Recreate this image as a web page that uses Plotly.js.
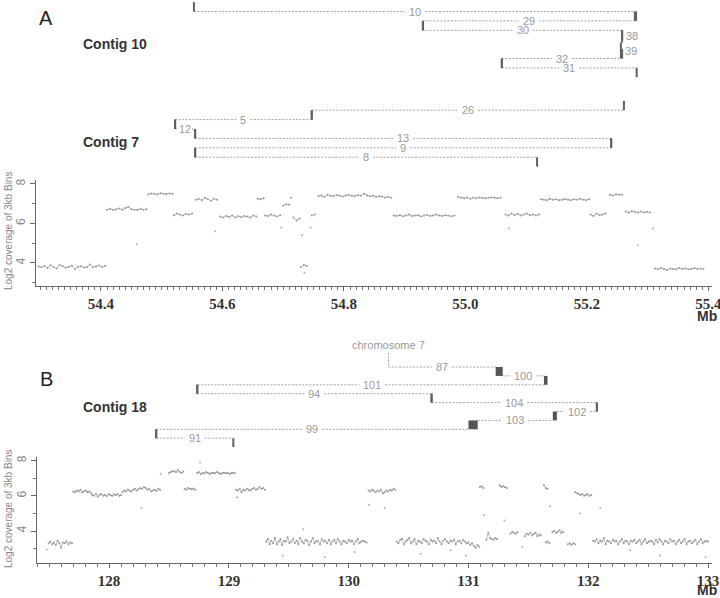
<!DOCTYPE html>
<html>
<head>
<meta charset="utf-8">
<script src="https://cdn.plot.ly/plotly-3.0.1.min.js"></script>
<style>
  html, body { margin: 0; padding: 0; background: #fff; }
  #chart { width: 720px; height: 598px; }
</style>
</head>
<body>
<div id="chart"></div>
<script>
// ---- Panel A: log2 coverage, 54.3-55.4 Mb (one array per segment) ----
const binStepA = 0.005;
const segStartA = [54.297, 54.41, 54.478, 54.52, 54.556, 54.596, 54.658, 54.67, 54.70, 54.713, 54.717,
  54.729, 54.747, 54.758, 54.882, 54.988, 55.066, 55.124, 55.206, 55.238, 55.264, 55.312];
const segValuesA = [
  [3.82,3.78,3.85,3.75,3.88,3.8,3.72,3.9,3.83,3.76,3.8,3.86,3.7,3.81,3.84,3.77,3.8,3.92,3.79,3.83,3.87,3.8,3.85],
  [6.7,6.74,6.68,6.72,6.76,6.7,6.78,6.85,6.72,6.7,6.68,6.74,6.7,6.72],
  [7.48,7.52,7.5,7.47,7.53,7.5,7.49,7.52,7.5],
  [6.42,6.5,6.45,6.4,6.48,6.45,6.5],
  [7.2,7.25,7.18,7.3,7.22,7.15,7.25,7.2],
  [6.35,6.3,6.38,6.33,6.4,6.3,6.36,6.32,6.38,6.35,6.3,6.4,6.35],
  [7.25,7.22,7.28],
  [6.4,6.38,6.45,6.4,6.35,6.42],
  [6.9,6.97,6.95],
  [7.3],
  [6.3,6.15,6.25],
  [3.8,3.9,3.85],
  [6.4,6.45],
  [7.38,7.42,7.35,7.45,7.4,7.38,7.44,7.4,7.36,7.42,7.45,7.4,7.38,7.43,7.4,7.5,7.42,7.38,7.4,7.35,7.38,7.36,7.32,7.35,7.3],
  [6.4,6.38,6.42,6.36,6.4,6.45,6.38,6.4,6.42,6.35,6.4,6.44,6.38,6.4,6.45,6.4,6.38,6.42,6.4,6.36,6.4],
  [7.35,7.3,7.28,7.32,7.25,7.3,7.28,7.32,7.3,7.27,7.3,7.32,7.3,7.28,7.3],
  [6.45,6.4,6.5,6.42,6.48,6.4,6.45,6.5,6.42,6.45,6.4,6.45],
  [7.22,7.2,7.18,7.25,7.2,7.22,7.18,7.2,7.24,7.2,7.18,7.22,7.2,7.25,7.2,7.18,7.22],
  [6.45,6.38,6.5,6.42,6.45,6.5],
  [7.45,7.42,7.48,7.45,7.45],
  [6.6,6.55,6.62,6.58,6.55,6.6,6.55,6.58,6.56],
  [3.72,3.68,3.75,3.7,3.65,3.72,3.7,3.68,3.75,3.7,3.72,3.68,3.7,3.74,3.7,3.72,3.7]
];
const strayXA = [54.459, 54.588, 54.697, 54.731, 54.735, 54.745, 55.072, 55.284, 55.309];
const strayYA = [4.95, 5.6, 5.8, 5.4, 3.5, 5.8, 5.75, 4.9, 5.75];

// ---- Panel B: log2 coverage, 127.4-133 Mb ----
const binStepB = 0.015;
const segStartB = [127.495, 127.70, 127.86, 128.11, 128.50, 128.63, 128.735, 129.06, 129.31, 130.165, 130.40,
  131.095, 131.15, 131.26, 131.35, 131.47, 131.63, 131.645, 131.70, 131.83, 131.89, 132.04];
const segValuesB = [
  [3.3,3.4,3.25,3.35,3.2,3.45,3.3,3.05,3.35,3.3,3.4,3.25,3.35,3.3],
  [6.25,6.2,6.3,6.25,6.35,6.2,6.25,6.3,6.2,6.25,6.15],
  [6.05,6.0,6.1,5.95,6.05,6.1,6.0,6.05,5.98,6.1,6.05,6.0,6.08,6.05,6.1,6.0,6.05],
  [6.2,6.3,6.25,6.35,6.3,6.25,6.35,6.4,6.3,6.38,6.45,6.4,6.5,6.45,6.35,6.4,6.25,6.3,6.35,6.28,6.4,6.35],
  [7.3,7.35,7.4,7.38,7.35,7.45,7.35,7.3,7.38],
  [6.4,6.35,6.45,6.4,6.38,6.42,6.35],
  [7.3,7.35,7.25,7.3,7.28,7.35,7.3,7.25,7.32,7.3,7.28,7.35,7.3,7.25,7.3,7.32,7.28,7.3,7.25,7.3,7.32,7.28],
  [6.35,6.3,6.4,6.2,6.35,6.3,6.4,6.35,6.3,6.4,6.45,6.35,6.4,6.5,6.4,6.45,6.35],
  [3.4,3.55,3.25,3.45,3.3,3.6,3.25,3.4,3.55,3.2,3.45,3.4,3.65,3.3,3.4,3.55,3.3,3.45,3.25,3.6,3.4,3.3,3.5,3.45,3.2,
   3.4,3.6,3.3,3.45,3.4,3.25,3.55,3.4,3.45,3.3,3.5,3.25,3.4,3.5,3.3,3.55,3.4,3.25,3.45,3.4,3.3,3.5,3.4,3.45,3.25,
   3.4,3.55,3.3,3.4,3.45,3.4,3.35],
  [6.3,6.25,6.35,6.3,6.2,6.3,6.25,6.35,6.15,6.2,6.3,6.25,6.35,6.3,6.4,6.35],
  [3.4,3.3,3.5,3.55,3.25,3.4,3.5,3.6,3.3,3.4,3.55,3.25,3.45,3.4,3.3,3.55,3.45,3.4,3.25,3.5,3.4,3.45,3.3,3.6,3.4,
   3.25,3.45,3.55,3.4,3.3,3.45,3.4,3.5,3.25,3.4,3.45,3.3,3.5,3.4,3.3,3.35,3.2,3.3,3.15,3.05,3.2,3.1],
  [6.5,6.55,6.45],
  [3.5,3.9,3.6,3.55,3.5,3.6,3.55],
  [6.6,6.5,6.55,6.5,6.45],
  [3.85,3.95,3.9,3.85,3.95],
  [3.7,3.85,3.8,3.9,3.75,3.85,3.9,3.7,3.8,3.75],
  [6.6,6.45,6.4],
  [3.35,3.4,3.3],
  [3.95,4.0,3.9,3.95,4.05,3.9,3.95],
  [3.25,3.3,3.2,3.3,3.25],
  [6.2,6.15,6.1,6.05,6.1,6.0,6.05,6.1,6.0,6.05],
  [3.45,3.4,3.55,3.3,3.45,3.4,3.6,3.25,3.45,3.4,3.3,3.5,3.4,3.45,3.25,3.4,3.55,3.3,3.45,3.4,3.25,3.45,3.4,3.5,3.3,
   3.4,3.5,3.25,3.4,3.55,3.3,3.4,3.45,3.4,3.25,3.5,3.35,3.55,3.4,3.25,3.45,3.4,3.3,3.55,3.4,3.45,3.25,3.4,3.5,3.3,
   3.4,3.55,3.25,3.4,3.45,3.3,3.4,3.5,3.25,3.4,3.55,3.3,3.4,3.45,3.4]
];
const strayXB = [127.48, 128.27, 128.43, 128.76, 129.07, 129.45, 129.62, 129.8, 130.05, 130.17, 130.3, 130.6,
  130.85, 130.98, 131.13, 131.3, 131.45, 131.68, 131.93, 132.1, 132.35, 132.6, 132.98];
const strayYB = [2.95, 5.3, 7.25, 7.9, 5.9, 2.6, 4.1, 2.5, 2.8, 5.5, 5.3, 2.7, 2.9, 2.6, 4.9, 4.6, 3.1, 5.4, 5.0,
  5.3, 2.9, 2.6, 2.5];

// ---- Junction links above each panel (Mb ends, diagram row, end bar side: -1 up, 1 down, 0 none) ----
const linkLabelA = ["10", "29", "30", "32", "31", "26", "5", "12", "13", "9", "8"];
const linkFromA = [54.553, 54.930, 54.930, 55.060, 55.060, 54.747, 54.522, 54.522, 54.555, 54.555, 54.555];
const linkToA = [55.281, 55.279, 55.258, 55.258, 55.282, 55.261, 54.747, 54.555, 55.240, 55.240, 55.118];
const linkRowA = [0, 1, 2, 5, 6, 10.5, 11.5, 12.5, 13.5, 14.5, 15.5];
const fromSideA = [-1, 1, -1, 1, -1, 1, 1, -1, -1, 1, -1];
const toSideA = [1, -1, 1, -1, 1, -1, -1, 1, 1, -1, 1];
const spanLabelA = ["38", "39"];
const spanXA = [55.258, 55.256];
const spanTopA = [2, 3.3];
const spanBottomA = [3.3, 5];

const linkLabelB = ["87", "100", "101", "94", "104", "102", "103", "99", "91"];
const linkFromB = [130.333, 131.286, 128.736, 128.736, 130.692, 131.738, 131.077, 128.393, 128.393];
const linkToB = [131.227, 131.630, 131.654, 130.692, 132.072, 132.072, 131.704, 131.0, 129.037];
const linkRowB = [0, 1, 2, 3, 4, 5, 6, 7, 8];
const fromSideB = [0, 0, 1, -1, -1, 0, 0, 1, -1];
const toSideB = [0, 0, 0, 1, 1, -1, 0, 0, 1];
const boxFromB = [131.227, 131.630, 131.704, 131.0];
const boxToB = [131.286, 131.660, 131.738, 131.077];
const boxTopB = [0, 1, 5, 6];
const boxBottomB = [1, 2, 6, 7];
const sourceLabelB = "chromosome 7";
const sourceXB = 130.333;

// ---- page geometry (pixels) ----
const W = 720, H = 598;
const fx = p => p / W;
const fy = p => 1 - p / H;

const rangeXA = [54.293, 55.406], pxXA = [36, 712];
const rangeXB = [127.398, 133.033], pxXB = [37, 712];
const mbPerPxA = (rangeXA[1] - rangeXA[0]) / (pxXA[1] - pxXA[0]);
const mbPerPxB = (rangeXB[1] - rangeXB[0]) / (pxXB[1] - pxXB[0]);

const labelFont = { family: "Liberation Sans Narrow, Liberation Sans", size: 11, color: "#999" };

function coverageTrace(starts, segs, step, xa, ya) {
  const xs = [], ys = [];
  segs.forEach((vals, k) => {
    vals.forEach((v, i) => { xs.push(starts[k] + i * step); ys.push(v); });
    xs.push(null); ys.push(null);
  });
  return {
    x: xs, y: ys, xaxis: xa, yaxis: ya, type: "scatter", mode: "lines+markers",
    line: { color: "#a8a8a8", width: 0.8 },
    marker: { size: 2, color: "#999" },
    connectgaps: false, hoverinfo: "skip"
  };
}

function strayTrace(xs, ys, xa, ya) {
  return {
    x: xs, y: ys, xaxis: xa, yaxis: ya, type: "scatter", mode: "markers",
    marker: { size: 2, color: "#b0b0b0" }, hoverinfo: "skip"
  };
}

// dotted line broken around its label, plus the solid end bars
function linkTraces(labels, from, to, row, fromSide, toSide, mbPerPx, xa, ya) {
  const lx = [], ly = [], bx = [], by = [];
  for (let i = 0; i < from.length; i++) {
    const mid = (from[i] + to[i]) / 2;
    const gap = (labels[i].length * 3 + 4) * mbPerPx;
    const foot = 3 * mbPerPx;
    lx.push(from[i], Math.max(from[i] + foot, mid - gap), null, Math.min(to[i] - foot, mid + gap), to[i], null);
    ly.push(row[i], row[i], null, row[i], row[i], null);
    if (fromSide[i]) { bx.push(from[i], from[i], null); by.push(row[i], row[i] + fromSide[i], null); }
    if (toSide[i]) { bx.push(to[i], to[i], null); by.push(row[i], row[i] + toSide[i], null); }
  }
  return [
    { x: lx, y: ly, xaxis: xa, yaxis: ya, type: "scatter", mode: "lines",
      line: { color: "#a0a0a0", width: 1, dash: "2px,1.5px" }, hoverinfo: "skip" },
    { x: bx, y: by, xaxis: xa, yaxis: ya, type: "scatter", mode: "lines",
      line: { color: "#606060", width: 2 }, hoverinfo: "skip" }
  ];
}

function linkLabels(labels, from, to, row, xref, yref) {
  return labels.map((t, i) => ({
    x: (from[i] + to[i]) / 2, y: row[i], xref: xref, yref: yref, text: t, showarrow: false,
    font: labelFont, xanchor: "center", yanchor: "middle"
  }));
}

const traces = [
  coverageTrace(segStartA, segValuesA, binStepA, "x", "y"),
  strayTrace(strayXA, strayYA, "x", "y"),
  coverageTrace(segStartB, segValuesB, binStepB, "x2", "y2"),
  strayTrace(strayXB, strayYB, "x2", "y2"),
  ...linkTraces(linkLabelA, linkFromA, linkToA, linkRowA, fromSideA, toSideA, mbPerPxA, "x", "y3"),
  ...linkTraces(linkLabelB, linkFromB, linkToB, linkRowB, fromSideB, toSideB, mbPerPxB, "x2", "y4")
];

// 38 / 39: tiny events drawn as vertical brackets
const spanX = [], spanY = [];
spanXA.forEach((x, i) => { spanX.push(x, x, null); spanY.push(spanTopA[i], spanBottomA[i], null); });
traces.push({ x: spanX, y: spanY, xaxis: "x", yaxis: "y3", type: "scatter", mode: "lines",
  line: { color: "#606060", width: 2 }, hoverinfo: "skip" });

// chromosome 7 stem
traces.push({ x: [sourceXB, sourceXB], y: [-1.6, 0], xaxis: "x2", yaxis: "y4", type: "scatter",
  mode: "lines", line: { color: "#a0a0a0", width: 1, dash: "2px,1.5px" }, hoverinfo: "skip" });

const shapes = boxFromB.map((x0, i) => ({
  type: "rect", xref: "x2", yref: "y4", x0: x0, x1: boxToB[i], y0: boxTopB[i], y1: boxBottomB[i],
  fillcolor: "#555", line: { width: 0 }
}));

const tickFont = { family: "Liberation Serif", size: 15, color: "#333", weight: "bold" };
const yTickFont = { family: "Liberation Sans", size: 12, color: "#888" };

function xAxis(domainPx, range, tick0, dtick, minor, fmt, anchor) {
  return {
    domain: [fx(domainPx[0]), fx(domainPx[1])], range: range, anchor: anchor,
    showgrid: false, zeroline: false,
    showline: true, linecolor: "#666", linewidth: 1, ticks: "outside", ticklen: 4, tickcolor: "#666",
    tick0: tick0, dtick: dtick, tickformat: fmt, tickfont: tickFont, automargin: false,
    ticklabeloverflow: "allow",
    minor: { dtick: minor, ticks: "outside", ticklen: 3, tickcolor: "#777", showgrid: false }
  };
}
function yAxis(domain, range, anchor) {
  return {
    domain: domain, range: range, anchor: anchor, showgrid: false, zeroline: false,
    showline: true, linecolor: "#666", linewidth: 1, ticks: "outside", ticklen: 5, tickcolor: "#666",
    tick0: 0, dtick: 2, tickangle: -90, tickfont: yTickFont, automargin: false,
    minor: { dtick: 1, ticks: "outside", ticklen: 3, tickcolor: "#777", showgrid: false }
  };
}

const rowPxA = 9.4, row0A = 11.5;
const rowPxB = 8.9, row0B = 367;

const textAnn = (x, y, text, font, xanchor) => ({
  xref: "paper", yref: "paper", x: fx(x), y: fy(y), text: text, showarrow: false,
  xanchor: xanchor || "center", yanchor: "middle", font: font
});
const contigFont = { family: "Liberation Sans", size: 14, color: "#333", weight: "bold" };
const panelFont = { family: "Liberation Sans", size: 20, color: "#222" };
const mbFont = { family: "Liberation Sans", size: 14, color: "#333", weight: "bold" };
const ytFont = { family: "Liberation Sans", size: 10, color: "#888" };

const annotations = [
  textAnn(46, 18, "A", panelFont),
  textAnn(46, 379, "B", panelFont),
  textAnn(81, 44, "Contig 10", contigFont, "left"),
  textAnn(81, 142, "Contig 7", contigFont, "left"),
  textAnn(81, 407, "Contig 18", contigFont, "left"),
  textAnn(707, 316, "Mb", mbFont),
  textAnn(707, 590, "Mb", mbFont),
  Object.assign(textAnn(8, 231, "Log2 coverage of 3kb Bins", ytFont), { textangle: -90 }),
  Object.assign(textAnn(8, 509, "Log2 coverage of 3kb Bins", ytFont), { textangle: -90 }),
  ...linkLabels(linkLabelA, linkFromA, linkToA, linkRowA, "x", "y3"),
  ...linkLabels(linkLabelB, linkFromB, linkToB, linkRowB, "x2", "y4"),
  ...spanLabelA.map((t, i) => ({
    x: spanXA[i], y: (spanTopA[i] + spanBottomA[i]) / 2, xref: "x", yref: "y3", text: t, showarrow: false,
    xanchor: "left", yanchor: "middle", xshift: 2, font: labelFont
  })),
  { x: sourceXB, y: -2.5, xref: "x2", yref: "y4", text: sourceLabelB, showarrow: false, font: labelFont }
];

const layout = {
  width: W, height: H,
  margin: { l: 0, r: 0, t: 0, b: 0 },
  paper_bgcolor: "#fff", plot_bgcolor: "rgba(0,0,0,0)",
  showlegend: false, hovermode: false,
  xaxis: xAxis(pxXA, rangeXA, 54.4, 0.2, 0.01, ".1f", "y"),
  yaxis: yAxis([fy(286), fy(180)], [2.835, 8.2], "x"),
  xaxis2: xAxis(pxXB, rangeXB, 128, 1, 0.1, "d", "y2"),
  yaxis2: yAxis([fy(563), fy(457)], [2.18, 8.21], "x2"),
  yaxis3: { domain: [fy(175), fy(0)], range: [(175 - row0A) / rowPxA, (0 - row0A) / rowPxA],
    anchor: "x", visible: false },
  yaxis4: { domain: [fy(452), fy(335)], range: [(452 - row0B) / rowPxB, (335 - row0B) / rowPxB],
    anchor: "x2", visible: false },
  shapes: shapes,
  annotations: annotations
};

Plotly.newPlot("chart", traces, layout, { displayModeBar: false, staticPlot: true });
</script>
</body>
</html>
